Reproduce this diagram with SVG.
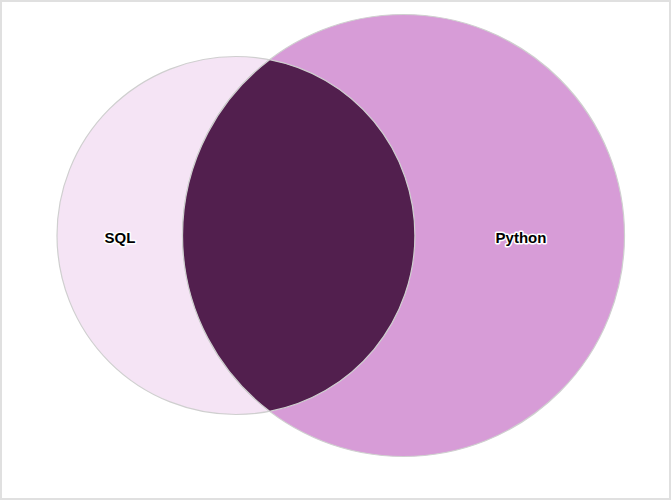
<svg xmlns="http://www.w3.org/2000/svg" width="671" height="500" viewBox="0 0 671 500">
<style>
.set{stroke:#cfcfcf;stroke-width:1.2}
.lbl{font-family:"Liberation Sans",Arial,sans-serif;font-size:15px;font-weight:bold;fill:#000;stroke:#fff;stroke-width:3;paint-order:stroke;stroke-linejoin:round;text-anchor:middle}
</style>
<rect x="1" y="1" width="669" height="498" fill="#fff" stroke="#e0e0e0" stroke-width="2"/>
<g id="sql"><circle class="set" cx="236" cy="235.5" r="179" fill="#f5e4f5"/></g>
<g id="python"><circle class="set" cx="403.5" cy="235.5" r="221" fill="#d79cd7"/></g>
<g id="sql-python"><path class="set" d="M269.6 59.7 A179 179 0 0 1 269.6 411.3 A221 221 0 0 1 269.6 59.7 Z" fill="#521f4e"/></g>
<g id="labels">
<text class="lbl" x="120" y="243">SQL</text>
<text class="lbl" x="521" y="243">Python</text>
</g>
<g id="connectors"/>
</svg>
